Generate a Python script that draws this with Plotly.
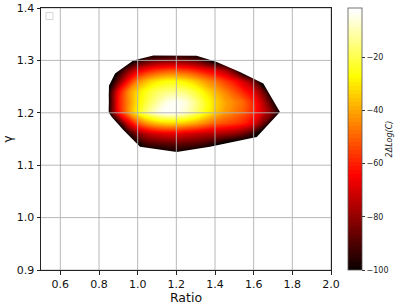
import plotly.graph_objects as go

# ---- data ----
ratio = [0.85, 0.90, 0.95, 1.00, 1.05, 1.10, 1.15, 1.20, 1.25, 1.30,
         1.35, 1.40, 1.45, 1.50, 1.55, 1.60, 1.65, 1.70, 1.75]
gamma = [1.12, 1.14, 1.16, 1.18, 1.20, 1.22, 1.24, 1.26, 1.28, 1.30, 1.32]

# 2ΔLog(C) on the (gamma row, ratio column) grid
dlogc = [
    [-110, -110, -110, -110, -110, -110, -105, -104, -105, -110, -110, -110, -110, -110, -110, -110, -110, -110, -110],  # 1.12
    [-110, -110, -110, -100, -92, -90, -89, -88, -89, -90, -93, -98, -105, -110, -110, -110, -110, -110, -110],          # 1.14
    [-110, -110, -98, -82, -74, -70, -68, -68, -70, -72, -74, -76, -78, -80, -86, -95, -110, -110, -110],               # 1.16
    [-110, -98, -70, -52, -42, -36, -33, -33, -36, -40, -45, -50, -53, -56, -60, -68, -85, -105, -110],                 # 1.18
    [-100, -65, -45, -28, -15, -6, -2, -3, -8, -16, -26, -35, -42, -47, -52, -60, -72, -86, -105],                      # 1.20
    [-100, -62, -45, -30, -20, -12, -5, -3, -6, -14, -24, -33, -40, -45, -50, -60, -75, -95, -110],                     # 1.22
    [-100, -65, -45, -32, -24, -18, -15, -14, -16, -22, -30, -38, -45, -52, -60, -68, -85, -110, -110],                 # 1.24
    [-110, -85, -62, -45, -36, -30, -27, -27, -30, -35, -42, -48, -55, -62, -72, -85, -110, -110, -110],                # 1.26
    [-110, -100, -82, -68, -60, -55, -52, -52, -54, -58, -63, -68, -75, -88, -110, -110, -110, -110, -110],             # 1.28
    [-110, -110, -110, -98, -90, -86, -84, -84, -85, -88, -95, -105, -110, -110, -110, -110, -110, -110, -110],         # 1.30
    [-110, -110, -110, -110, -110, -110, -110, -110, -110, -110, -110, -110, -110, -110, -110, -110, -110, -110, -110], # 1.32
]

# outline of the sampled region (ratio, gamma)
edge_ratio = [0.848, 0.848, 0.883, 0.977, 1.081, 1.305, 1.409, 1.529, 1.650, 1.736,
              1.616, 1.374, 1.202, 1.012, 0.926, 0.866]
edge_gamma = [1.202, 1.249, 1.275, 1.300, 1.3095, 1.309, 1.297, 1.278, 1.256, 1.2015,
              1.154, 1.135, 1.125, 1.135, 1.167, 1.192]

x_ticks = [0.6, 0.8, 1.0, 1.2, 1.4, 1.6, 1.8, 2.0]
y_ticks = [0.9, 1.0, 1.1, 1.2, 1.3, 1.4]
cb_ticks = [-20, -40, -60, -80, -100]
z_low, z_high = -100, -1.5

hot = [[0.0, 'rgb(10,0,0)'], [0.365079, 'rgb(255,0,0)'],
       [0.746032, 'rgb(255,255,0)'], [1.0, 'rgb(255,255,255)']]

fig = go.Figure()
fig.add_trace(go.Contour(
    x=ratio, y=gamma, z=dlogc,
    colorscale=hot, zmin=z_low, zmax=z_high,
    contours=dict(start=z_low, end=z_high, size=1.5, coloring='fill', showlines=False),
    line=dict(width=0),
    colorbar=dict(
        x=1.0586, xanchor='left', xpad=0, y=0.5, yanchor='middle',
        len=1.0, lenmode='fraction', ypad=0, thickness=14,
        outlinewidth=0.8, outlinecolor='#555555',
        tickvals=cb_ticks, ticks='outside', ticklen=3, tickcolor='#333333',
        tickfont=dict(family='DejaVu Sans', size=8, color='#222222'),
        title=dict(text='<i>2ΔLog(C)</i>', side='right',
                   font=dict(family='DejaVu Sans', size=8, color='#222222')),
    ),
    hoverinfo='skip',
))

# white mask outside the sampled region
pad_x0, pad_x1 = min(ratio) - 0.02, max(ratio) + 0.02
pad_y0, pad_y1 = min(gamma) - 0.01, max(gamma) + 0.01
outer = f"M{pad_x0},{pad_y0} L{pad_x1},{pad_y0} L{pad_x1},{pad_y1} L{pad_x0},{pad_y1} Z"
inner = "M" + " L".join(f"{a},{b}" for a, b in zip(edge_ratio, edge_gamma)) + " Z"
shapes = [dict(type='path', path=outer + " " + inner, xref='x', yref='y',
               fillcolor='white', fillrule='evenodd', line=dict(width=0), layer='above')]

# grid lines drawn above the filled contours
for t in x_ticks:
    shapes.append(dict(type='line', xref='x', yref='y', x0=t, x1=t, y0=y_ticks[0], y1=y_ticks[-1],
                       line=dict(color='#b0b0b0', width=0.9), layer='above'))
for t in y_ticks:
    shapes.append(dict(type='line', xref='x', yref='y', x0=0.5, x1=2.0, y0=t, y1=t,
                       line=dict(color='#b0b0b0', width=0.9), layer='above'))

# empty legend frame
shapes.append(dict(type='rect', xref='paper', yref='paper', x0=0.0172, x1=0.0414, y0=0.956, y1=0.983,
                   line=dict(color='#cccccc', width=0.8), fillcolor='white', layer='above'))

axis_common = dict(showgrid=False, zeroline=False, showline=True, mirror=True, automargin=False,
                   linecolor='#222222', linewidth=1, ticks='outside', ticklen=3.5,
                   tickcolor='#222222', tickfont=dict(family='DejaVu Sans', size=11, color='#111111'))

fig.update_layout(
    template='none',
    width=407, height=305,
    margin=dict(l=41, r=76, t=7.5, b=35, autoexpand=False),
    paper_bgcolor='white', plot_bgcolor='white',
    showlegend=False,
    shapes=shapes,
    xaxis=dict(range=[0.5, 2.0], tickvals=x_ticks, tickformat='.1f',
               title=dict(text='Ratio', standoff=2, font=dict(family='DejaVu Sans', size=12.5, color='#111111')),
               **axis_common),
    yaxis=dict(range=[0.9, 1.4], tickvals=y_ticks, tickformat='.1f',
               title=dict(text='γ', standoff=4, font=dict(family='DejaVu Sans', size=12.5, color='#111111')),
               **axis_common),
)

fig.write_html("out.html", config={'displayModeBar': False},
               post_script="document.body.style.margin='0';")
